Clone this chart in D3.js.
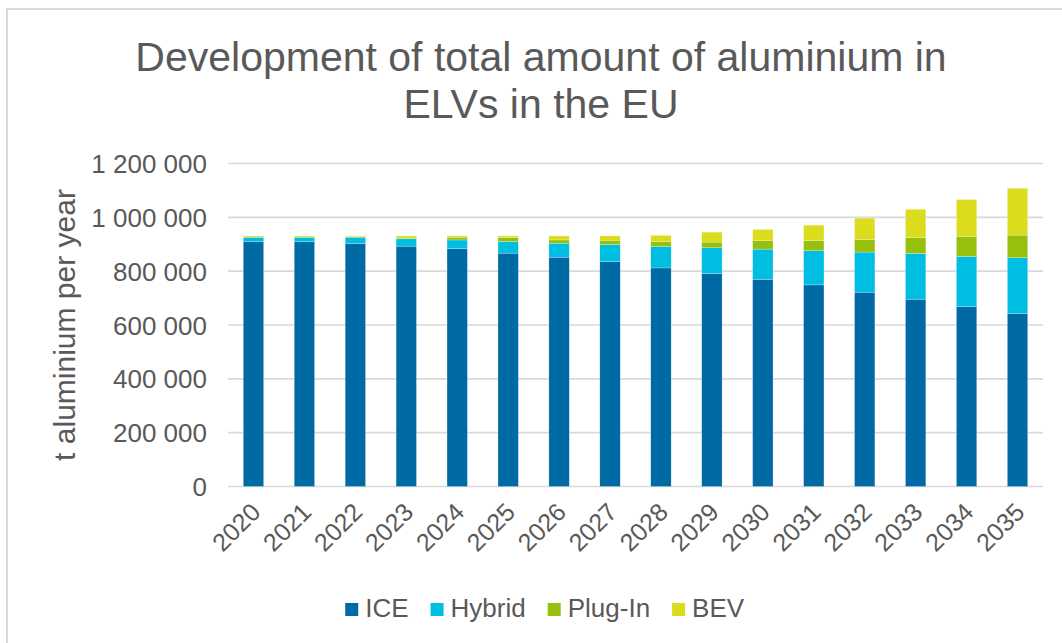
<!DOCTYPE html>
<html>
<head>
<meta charset="utf-8">
<script src="https://cdn.jsdelivr.net/npm/d3@7/dist/d3.min.js"></script>
<style>
  html, body { margin: 0; padding: 0; background: #fff; }
  svg { display: block; font-family: "Liberation Sans", Arial, sans-serif; }
</style>
</head>
<body>
<svg id="chart" width="1062" height="643"></svg>
<script>
const years = ["2020","2021","2022","2023","2024","2025","2026","2027","2028","2029","2030","2031","2032","2033","2034","2035"];
const ice    = [909000, 909000, 903000, 893000, 884000, 867000, 852000, 835000, 812000, 791000, 770000, 749000, 722000, 696000, 669000, 642000];
const hybrid = [17000, 17000, 23000, 27000, 32000, 43000, 52000, 64000, 80000, 96000, 112000, 127000, 149000, 170000, 186000, 208000];
const plugIn = [1000, 1000, 2000, 3000, 10000, 14000, 12000, 16000, 17000, 21000, 31000, 37000, 47000, 58000, 74000, 84000];
const bev    = [4000, 4000, 3000, 8000, 5000, 7000, 15000, 16000, 24000, 37000, 42000, 58000, 79000, 106000, 137000, 174000];
const seriesNames = ["ICE", "Hybrid", "Plug-In", "BEV"];
const seriesColors = ["#006aa4", "#00bee1", "#97bf0d", "#dcdc1e"];
const yTicks = [0, 200000, 400000, 600000, 800000, 1000000, 1200000];
const titleLines = ["Development of total amount of aluminium in", "ELVs in the EU"];
const yTitle = "t aluminium per year";

const svg = d3.select("#chart");
const textColor = "#595959";

// outer frame
svg.append("rect").attr("x", 7).attr("y", 9).attr("width", 1200).attr("height", 800)
  .attr("fill", "none").attr("stroke", "#d9d9d9").attr("stroke-width", 2);

const table = years.map((y, i) => ({year: y, "ICE": ice[i], "Hybrid": hybrid[i], "Plug-In": plugIn[i], "BEV": bev[i]}));
const stack = d3.stack().keys(seriesNames)(table);

const x = d3.scaleBand().domain(years).range([228, 1043]).paddingInner(0.6).paddingOuter(0.3);
const y = d3.scaleLinear().domain([0, 1200000]).range([486.5, 163.5]);
const color = d3.scaleOrdinal().domain(seriesNames).range(seriesColors);

const loc = d3.formatLocale({decimal: ".", thousands: " ", grouping: [3], currency: ["", ""]});
const fmt = loc.format(",");

// gridlines
svg.append("g").selectAll("line").data(yTicks).join("line")
  .attr("x1", 228).attr("x2", 1043)
  .attr("y1", d => y(d)).attr("y2", d => y(d))
  .attr("stroke", "#d9d9d9").attr("stroke-width", 1.6);

// y axis labels
const yAxis = d3.axisLeft(y).tickValues(yTicks).tickFormat(fmt).tickSize(0).tickPadding(0);
const gy = svg.append("g").attr("transform", "translate(207,0)").call(yAxis);
gy.select(".domain").remove();
gy.selectAll("text").attr("fill", textColor).attr("font-size", 26)
  .attr("font-family", "Liberation Sans, Arial, sans-serif").attr("dy", "0.35em");

// bars
svg.append("g").selectAll("g").data(stack).join("g")
  .attr("fill", d => color(d.key))
  .selectAll("rect").data(d => d).join("rect")
  .attr("x", d => x(d.data.year))
  .attr("width", x.bandwidth())
  .attr("y", d => y(d[1]))
  .attr("height", d => y(d[0]) - y(d[1]))
  .attr("stroke", "#ffffff").attr("stroke-width", 0.4).attr("stroke-opacity", 0.6);

// x axis labels
const xAxis = d3.axisBottom(x).tickSize(0).tickPadding(0);
const gx = svg.append("g").attr("transform", "translate(0,501)").call(xAxis);
gx.select(".domain").remove();
gx.selectAll("text")
  .attr("fill", textColor).attr("font-size", 25)
  .attr("font-family", "Liberation Sans, Arial, sans-serif")
  .attr("text-anchor", "end")
  .attr("y", 0).attr("dy", "0.71em")
  .attr("transform", "translate(-4,0) rotate(-45)");

// title
svg.append("g").selectAll("text").data(titleLines).join("text")
  .attr("x", 541).attr("y", (d, i) => 71 + i * 47)
  .attr("text-anchor", "middle").attr("fill", textColor).attr("font-size", 41)
  .text(d => d);

// y title
svg.append("text")
  .attr("transform", "translate(75,325) rotate(-90)")
  .attr("text-anchor", "middle").attr("fill", textColor).attr("font-size", 30)
  .text(yTitle);

// legend
const legendFont = 26;
const legend = svg.append("g");
const items = legend.selectAll("g").data(seriesNames).join("g");
items.append("rect").attr("width", 13).attr("height", 13).attr("y", 603)
  .attr("fill", d => color(d));
items.append("text").attr("x", 20).attr("y", 617)
  .attr("fill", textColor).attr("font-size", legendFont).text(d => d);
const widths = [];
items.each(function() {
  widths.push(this.getBBox().width);
});
const gap = 22;
const total = d3.sum(widths) + gap * (widths.length - 1);
let cx = 545 - total / 2;
items.attr("transform", (d, i) => {
  const t = `translate(${cx},0)`;
  cx += widths[i] + gap;
  return t;
});
</script>
</body>
</html>
